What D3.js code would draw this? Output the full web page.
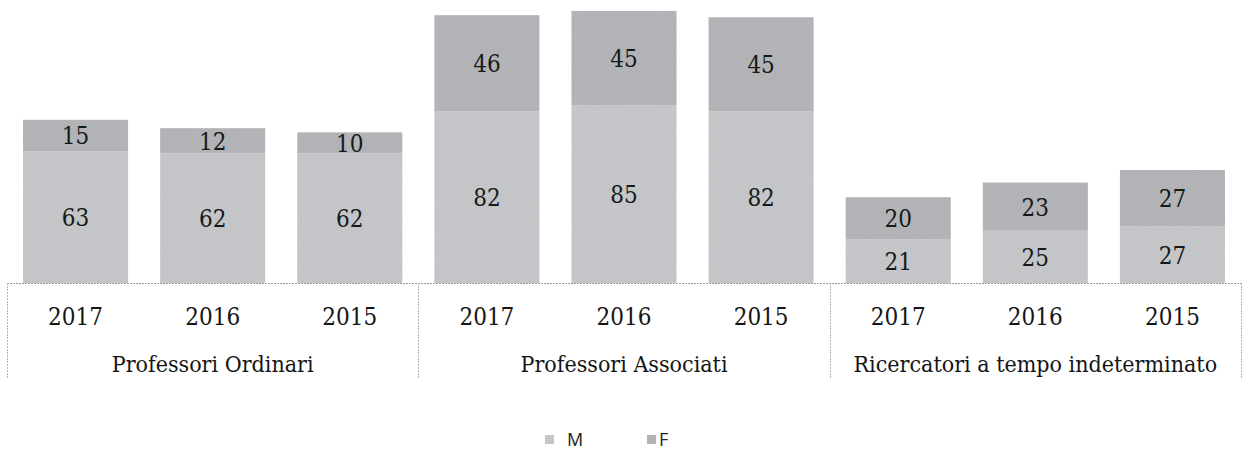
<!DOCTYPE html>
<html>
<head>
<meta charset="utf-8">
<script src="https://cdn.jsdelivr.net/npm/d3@7"></script>
<style>
  body { margin: 0; background: #fff; }
  svg { display: block; }
  .serif { font-family: 'DejaVu Serif Condensed', 'DejaVu Serif', serif; font-stretch: condensed; }
  .sans { font-family: 'Open Sans', 'Liberation Sans', sans-serif; }
</style>
</head>
<body>
<svg id="chart" width="1244" height="450"></svg>
<script>
var groups = ['Professori Ordinari', 'Professori Associati', 'Ricercatori a tempo indeterminato'];
var years = ['2017', '2016', '2015'];
var seriesNames = ['M', 'F'];
var valuesM = [63, 62, 62, 82, 85, 82, 21, 25, 27];
var valuesF = [15, 12, 10, 46, 45, 45, 20, 23, 27];

(function () {
  'use strict';

  var svg = d3.select('#chart');
  var colors = { M: '#c9cacd', F: '#b7b8bb' };

  // one row per bar: group + year
  var rows = [];
  groups.forEach(function (g, gi) {
    years.forEach(function (y, yi) {
      var i = gi * years.length + yi;
      rows.push({ key: g + '|' + y, group: g, year: y, M: valuesM[i], F: valuesF[i] });
    });
  });

  var x = d3.scaleBand()
    .domain(rows.map(function (d) { return d.key; }))
    .range([7, 1241])
    .paddingInner(0.234)
    .paddingOuter(0.117);

  var y = d3.scaleLinear().domain([0, 130]).range([283, 11]);

  // a little grain, like the scanned original
  var defs = svg.append('defs');
  var f = defs.append('filter').attr('id', 'grain').attr('x', 0).attr('y', 0).attr('width', 1).attr('height', 1);
  f.append('feTurbulence').attr('type', 'fractalNoise').attr('baseFrequency', 0.9).attr('numOctaves', 2).attr('result', 'noise');
  f.append('feColorMatrix').attr('in', 'noise').attr('type', 'matrix')
    .attr('values', '0 0 0 0 0  0 0 0 0 0  0 0 0 0 0  0 0 0 0.1 0').attr('result', 'dots');
  f.append('feComposite').attr('in', 'dots').attr('in2', 'SourceGraphic').attr('operator', 'in').attr('result', 'dotsIn');
  f.append('feMerge').call(function (m) {
    m.append('feMergeNode').attr('in', 'SourceGraphic');
    m.append('feMergeNode').attr('in', 'dotsIn');
  });

  var stacked = d3.stack().keys(seriesNames)(rows);

  var layers = svg.append('g').selectAll('g')
    .data(stacked)
    .enter()
    .append('g')
    .attr('fill', function (d) { return colors[d.key]; });

  layers.selectAll('rect')
    .data(function (d) { return d; })
    .enter()
    .append('rect')
    .attr('x', function (d) { return x(d.data.key); })
    .attr('width', x.bandwidth())
    .attr('y', function (d) { return y(d[1]); })
    .attr('height', function (d) { return y(d[0]) - y(d[1]); })
    .attr('filter', 'url(#grain)');

  layers.selectAll('text')
    .data(function (d) { return d; })
    .enter()
    .append('text')
    .attr('class', 'serif')
    .attr('x', function (d) { return x(d.data.key) + x.bandwidth() / 2; })
    .attr('y', function (d) { return (y(d[0]) + y(d[1])) / 2 + 9; })
    .attr('text-anchor', 'middle')
    .attr('font-size', 24)
    .attr('fill', '#151a18')
    .text(function (d) { return d[1] - d[0]; });

  // category axis
  var axis = svg.append('g');
  axis.append('line')
    .attr('x1', 7).attr('x2', 1241).attr('y1', 283.5).attr('y2', 283.5)
    .attr('stroke', '#9a9a9a').attr('stroke-width', 1).attr('stroke-dasharray', '2,1');

  var step = x.step();
  var x0 = x.range()[0];
  d3.range(groups.length + 1).forEach(function (i) {
    var xx = Math.round(x0 + i * years.length * step) + 0.5;
    axis.append('line')
      .attr('x1', xx).attr('x2', xx).attr('y1', 283).attr('y2', 378)
      .attr('stroke', '#b5b5b5').attr('stroke-width', 1).attr('stroke-dasharray', '2,1');
  });

  axis.selectAll('text.year')
    .data(rows)
    .enter()
    .append('text')
    .attr('class', 'year serif')
    .attr('x', function (d) { return x(d.key) + x.bandwidth() / 2; })
    .attr('y', 325)
    .attr('text-anchor', 'middle')
    .attr('font-size', 24)
    .attr('fill', '#151515')
    .text(function (d) { return d.year; });

  axis.selectAll('text.group')
    .data(groups)
    .enter()
    .append('text')
    .attr('class', 'group serif')
    .attr('x', function (d, i) { return x0 + (i + 0.5) * years.length * step; })
    .attr('y', 372)
    .attr('text-anchor', 'middle')
    .attr('font-size', 23)
    .attr('fill', '#151515')
    .text(function (d) { return d; });

  // legend
  var legend = svg.append('g').attr('transform', 'translate(545,435)');
  var item = legend.selectAll('g')
    .data(seriesNames)
    .enter()
    .append('g')
    .attr('transform', function (d, i) { return 'translate(' + (i * 102) + ',0)'; });
  item.append('rect')
    .attr('width', 9).attr('height', 9)
    .attr('fill', function (d) { return colors[d]; })
    .attr('filter', 'url(#grain)');
  item.append('text')
    .attr('class', 'sans')
    .attr('x', function (d) { return d === 'M' ? 22 : 12; })
    .attr('y', 11)
    .attr('font-size', 18)
    .attr('fill', '#222')
    .text(function (d) { return d; });
})();
</script>
</body>
</html>
